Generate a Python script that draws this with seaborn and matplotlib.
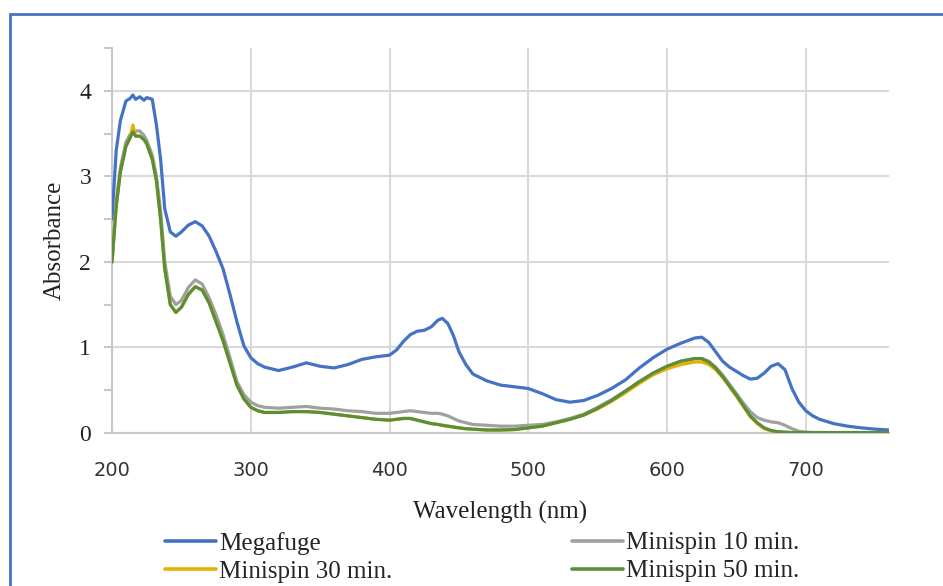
import numpy as np
import pandas as pd
import matplotlib
matplotlib.use("Agg")
import matplotlib.pyplot as plt
import seaborn as sns
from matplotlib.lines import Line2D
from matplotlib.ticker import MultipleLocator

# 1- Data
wavelength = [200, 203, 206, 210, 213, 215, 217, 220, 223, 225, 229, 232, 235, 238, 242, 246,
              250, 255, 260, 265, 270, 275, 280, 285, 290, 295, 300, 305, 310, 320, 330,
              340, 350, 360, 370, 380, 390, 400, 405, 410, 415, 420, 425, 430, 435, 438,
              442, 446, 450, 455, 460, 470, 480, 490, 500, 510, 520, 530, 540, 550, 560,
              570, 580, 590, 600, 610, 620, 625, 630, 635, 640, 645, 650, 655, 660, 665,
              670, 675, 680, 685, 690, 695, 700, 705, 710, 720, 730, 740, 750, 760]

megafuge = [2.50, 3.30, 3.65, 3.88, 3.91, 3.95, 3.90, 3.93, 3.89, 3.92, 3.90, 3.60, 3.20, 2.62, 2.35, 2.30,
            2.35, 2.43, 2.47, 2.42, 2.30, 2.12, 1.92, 1.62, 1.30, 1.02, 0.88, 0.81, 0.77, 0.73, 0.77,
            0.82, 0.78, 0.76, 0.80, 0.86, 0.89, 0.91, 0.97, 1.07, 1.15, 1.19, 1.20, 1.24, 1.32, 1.34,
            1.28, 1.14, 0.95, 0.80, 0.69, 0.61, 0.56, 0.54, 0.52, 0.46, 0.39, 0.36, 0.38, 0.44, 0.52,
            0.62, 0.76, 0.88, 0.98, 1.05, 1.11, 1.12, 1.06, 0.95, 0.84, 0.77, 0.72, 0.67, 0.63, 0.64,
            0.70, 0.78, 0.81, 0.74, 0.52, 0.36, 0.26, 0.20, 0.16, 0.11, 0.08, 0.06, 0.045, 0.035]

minispin_10 = [2.00, 2.70, 3.10, 3.40, 3.49, 3.52, 3.53, 3.53, 3.48, 3.42, 3.25, 3.00, 2.60, 2.00, 1.60, 1.50,
               1.55, 1.70, 1.79, 1.74, 1.58, 1.38, 1.15, 0.88, 0.60, 0.45, 0.36, 0.32, 0.30, 0.29, 0.30,
               0.31, 0.29, 0.28, 0.26, 0.25, 0.23, 0.23, 0.24, 0.25, 0.26, 0.25, 0.24, 0.23, 0.23, 0.22,
               0.20, 0.17, 0.14, 0.12, 0.10, 0.09, 0.08, 0.08, 0.09, 0.10, 0.13, 0.17, 0.22, 0.30, 0.39,
               0.49, 0.60, 0.70, 0.78, 0.84, 0.87, 0.87, 0.84, 0.77, 0.68, 0.57, 0.46, 0.35, 0.25, 0.18,
               0.15, 0.13, 0.12, 0.09, 0.05, 0.02, 0.01, 0.005, 0.005, 0.005, 0.005, 0.005, 0.005, 0.005]

minispin_30 = [2.00, 2.65, 3.05, 3.35, 3.45, 3.60, 3.47, 3.47, 3.43, 3.38, 3.20, 2.95, 2.50, 1.92, 1.50, 1.41,
               1.47, 1.62, 1.71, 1.67, 1.52, 1.30, 1.08, 0.82, 0.56, 0.40, 0.30, 0.26, 0.24, 0.24, 0.25,
               0.25, 0.24, 0.22, 0.20, 0.18, 0.16, 0.15, 0.16, 0.17, 0.17, 0.15, 0.13, 0.11, 0.10, 0.09,
               0.08, 0.07, 0.06, 0.05, 0.045, 0.035, 0.035, 0.04, 0.06, 0.08, 0.12, 0.16, 0.21, 0.28, 0.37,
               0.47, 0.58, 0.68, 0.75, 0.80, 0.83, 0.83, 0.80, 0.74, 0.65, 0.54, 0.43, 0.31, 0.19, 0.11,
               0.05, 0.025, 0.012, 0.008, 0.005, 0.005, 0.005, 0.005, 0.005, 0.005, 0.005, 0.005, 0.005, 0.005]

minispin_50 = [2.00, 2.65, 3.05, 3.35, 3.45, 3.52, 3.47, 3.47, 3.43, 3.38, 3.20, 2.95, 2.50, 1.92, 1.50, 1.41,
               1.47, 1.62, 1.71, 1.67, 1.52, 1.30, 1.08, 0.82, 0.56, 0.40, 0.30, 0.26, 0.24, 0.24, 0.25,
               0.25, 0.24, 0.22, 0.20, 0.18, 0.16, 0.15, 0.16, 0.17, 0.17, 0.15, 0.13, 0.11, 0.10, 0.09,
               0.08, 0.07, 0.06, 0.05, 0.045, 0.035, 0.035, 0.04, 0.06, 0.08, 0.12, 0.16, 0.21, 0.29, 0.38,
               0.49, 0.60, 0.70, 0.78, 0.84, 0.87, 0.87, 0.83, 0.76, 0.66, 0.55, 0.44, 0.32, 0.20, 0.12,
               0.06, 0.03, 0.015, 0.01, 0.005, 0.005, 0.005, 0.005, 0.005, 0.005, 0.005, 0.005, 0.005, 0.005]

series_names = ["Megafuge", "Minispin 10 min.", "Minispin 30 min.", "Minispin 50 min."]
series_colors = ["#4472C4", "#A0A0A0", "#E8B000", "#5B8E3A"]

# 2- Long form table for seaborn
df = pd.concat([
    pd.DataFrame({"Wavelength": wavelength, "Absorbance": vals, "Sample": name})
    for name, vals in zip(series_names, [megafuge, minispin_10, minispin_30, minispin_50])
], ignore_index=True)

# 3- Plot
sns.set_style("white")
plt.rcParams['font.family'] = ['Liberation Serif', 'DejaVu Serif']

fig = plt.figure(figsize=(9.43, 5.86), dpi=100)
ax = fig.add_axes([0.1188, 0.2611, 0.824, 0.657])

sns.lineplot(data=df, x="Wavelength", y="Absorbance", hue="Sample",
             hue_order=series_names, palette=series_colors, linewidth=2.3,
             sort=False, legend=False, ax=ax, zorder=3)

ax.set_xlim(200, 760)
ax.set_ylim(0, 4.5)
ax.xaxis.set_major_locator(MultipleLocator(100))
ax.yaxis.set_major_locator(MultipleLocator(1))
ax.yaxis.set_minor_locator(MultipleLocator(0.5))

ax.grid(True, which="major", color="#d9d9d9", linewidth=1.5, zorder=0)
ax.set_axisbelow(True)
for side in ["top", "right"]:
    ax.spines[side].set_visible(False)
for side in ["left", "bottom"]:
    ax.spines[side].set_color("#c8c8c8")
    ax.spines[side].set_linewidth(1.5)

ax.tick_params(axis="y", which="both", direction="out", length=6, width=1.5,
               color="#c8c8c8", left=True, labelsize=17, pad=9, labelcolor="#222222")
ax.tick_params(axis="x", which="both", length=0, pad=20, labelsize=14, labelcolor="#333333")
for lab in ax.get_xticklabels():
    lab.set_family("DejaVu Sans")

ax.set_xlabel("Wavelength (nm)", fontsize=18, labelpad=15, color="#222222")
ax.set_ylabel("Absorbance", fontsize=18, labelpad=10, color="#222222")

# 4- Legend in two columns below the plot
handles = [Line2D([], [], color=c, linewidth=2.6) for c in series_colors]
leg_kw = dict(frameon=False, fontsize=18, handlelength=2.05, handletextpad=0.12,
              labelspacing=0.22, borderpad=0, borderaxespad=0)
fig.legend([handles[0], handles[2]], [series_names[0], series_names[2]],
           loc="upper left", bbox_to_anchor=(165 / 943, 1 - 532 / 586), **leg_kw)
fig.legend([handles[1], handles[3]], [series_names[1], series_names[3]],
           loc="upper left", bbox_to_anchor=(572 / 943, 1 - 532 / 586), **leg_kw)

# chart frame
fig.patches.append(plt.Rectangle((10 / 943, -0.2), 1.2, 1.2 - 14 / 586, transform=fig.transFigure,
                                 fill=False, edgecolor="#4472C4", linewidth=2))

fig.savefig("out.png", dpi=100)
